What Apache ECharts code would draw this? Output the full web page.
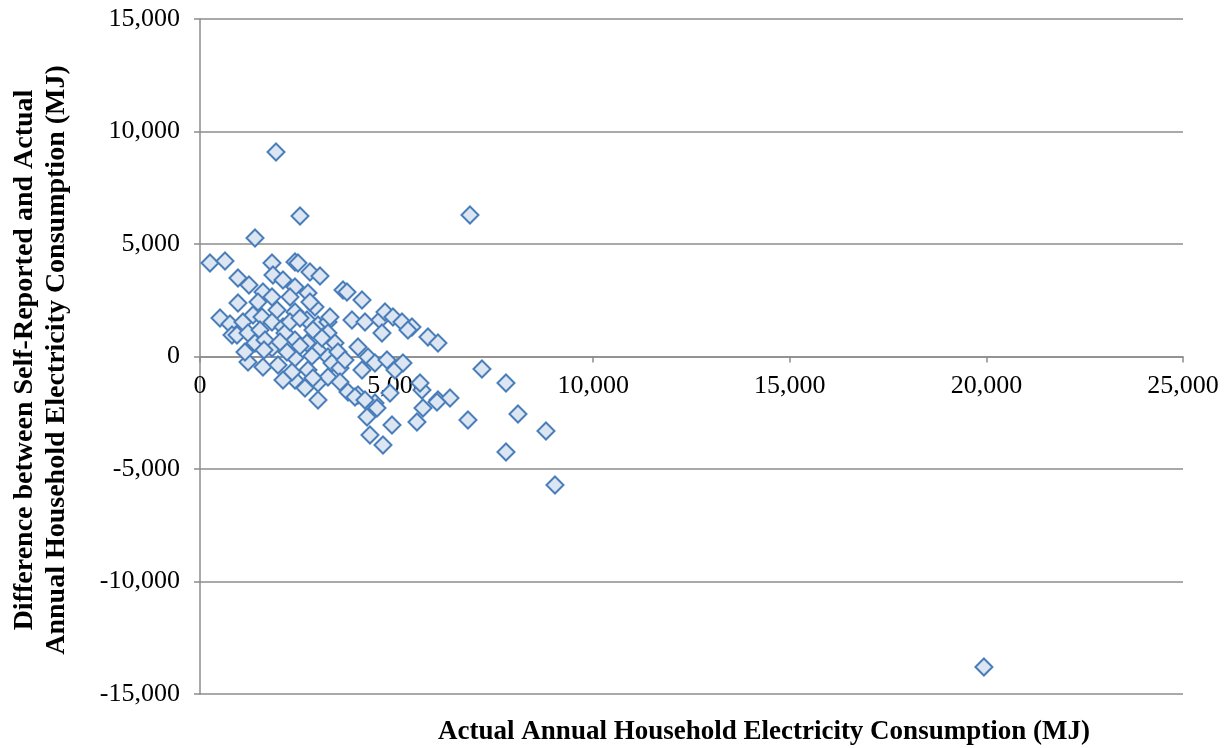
<!DOCTYPE html>
<html>
<head>
<meta charset="utf-8">
<script src="https://cdn.jsdelivr.net/npm/echarts@6/dist/echarts.min.js"></script>
<style>
html,body{margin:0;padding:0;background:#fff;}
#chart{width:1232px;height:748px;}
</style>
</head>
<body>
<div id="chart"></div>
<script>
// Actual annual household electricity consumption (MJ)
const actualMJ = [
  1933, 2543, 6866, 1399, 254, 636, 1831, 2416, 2492, 1856,
  2111, 2797, 3052, 966, 1246, 2416, 2746, 1602, 1831, 966,
  1475, 1958, 2416, 2924, 509, 763, 1093, 1348, 1577, 1831,
  2111, 2721, 3001, 3255, 3637, 3738, 4120, 3865, 4196, 4577,
  4705, 4908, 5137, 5391, 3306, 814, 941, 1221, 1526, 2162,
  2416, 2721, 3001, 3255, 1221, 1602, 1831, 1984, 2416, 2416,
  2746, 2670, 3001, 3001, 1399, 1144, 3255, 3255, 3433, 4018,
  4628, 5289, 5798, 6052, 4272, 4450, 4755, 4959, 5162, 4120,
  3357, 3560, 3764, 4018, 4450, 4832, 5645, 6052, 6358, 3942,
  4196, 4247, 4501, 4883, 4323, 4654, 5518, 5671, 6027, 6815,
  7171, 7782, 8087, 8799, 7782, 9028, 19937, 5595, 2212, 2543,
  2873, 3102, 1653, 2034, 2289, 2543, 2848, 3509, 2340, 2111,
  2873, 3560, 3687, 1628, 2797, 2289
];
// Difference between self-reported and actual consumption (MJ)
const differenceMJ = [
  9089, 6244, 6289, 5266, 4156, 4244, 4156, 4200, 4156, 3622,
  3400, 3755, 3578, 3489, 3178, 3089, 2822, 2866, 2644, 2378,
  2422, 2067, 1978, 2200, 1711, 1444, 1533, 1844, 1755, 1533,
  1311, 1622, 1400, 1533, 2955, 2866, 2511, 1622, 1533, 1622,
  1978, 1755, 1533, 1311, 1755, 955, 955, 1044, 1178, 1044,
  733, 600, 289, -22, -244, -467, 378, -378, -67, -1044,
  -600, -1400, -1178, -1933, 600, 200, -911, 1044, 600, 422,
  1044, 1178, 866, 600, -22, -289, -156, -600, -289, -600,
  -289, -511, -1578, -1711, -2067, -1622, -1489, -1933, -1844, -1800,
  -1933, -2689, -2289, -3044, -3489, -3933, -2911, -2289, -2022, -2822,
  -555, -1178, -2555, -3311, -4244, -5711, -13800, -1178, 200, 466,
  1178, 822, 733, 644, 1533, 1711, 22, 200, -689, -1044,
  -955, -1133, -156, 289, 2422, 2644
];
const xTicks = [0, 5000, 10000, 15000, 20000, 25000];
const yTicks = [-15000, -10000, -5000, 0, 5000, 10000, 15000];

const points = actualMJ.map((x, i) => [x, differenceMJ[i]]);
const fmt = v => v.toLocaleString('en-US');
const serif = '"Liberation Serif", "DejaVu Serif", serif';

const gridTop = 19, gridBottom = 54, H = 748;
const plotH = H - gridTop - gridBottom;

const chart = echarts.init(document.getElementById('chart'), null, {renderer: 'canvas'});
chart.setOption({
  animation: false,
  backgroundColor: '#ffffff',
  grid: {left: 200, right: 49, top: gridTop, bottom: gridBottom, containLabel: false},
  xAxis: {
    type: 'value',
    min: xTicks[0], max: xTicks[xTicks.length - 1], interval: 5000,
    position: 'bottom',
    offset: -plotH / 2,
    axisLine: {onZero: false, lineStyle: {color: '#8c8c8c', width: 1.5}},
    axisTick: {show: true, inside: false, length: 6, lineStyle: {color: '#8c8c8c', width: 1.5}},
    axisLabel: {color: '#000', fontFamily: serif, fontSize: 26, margin: 17, formatter: fmt},
    splitLine: {show: false}
  },
  yAxis: {
    type: 'value',
    min: yTicks[0], max: yTicks[yTicks.length - 1], interval: 5000,
    axisLine: {show: true, onZero: false, lineStyle: {color: '#8c8c8c', width: 1.5}},
    axisTick: {show: true, inside: false, length: 6, lineStyle: {color: '#8c8c8c', width: 1.5}},
    axisLabel: {color: '#000', fontFamily: serif, fontSize: 26, margin: 20, formatter: fmt},
    splitLine: {show: true, lineStyle: {color: '#8c8c8c', width: 1.5}}
  },
  graphic: [
    {
      type: 'text', x: 764, y: 732,
      style: {
        text: 'Actual Annual Household Electricity Consumption (MJ)',
        fill: '#000', font: 'bold 27px ' + serif,
        align: 'center', verticalAlign: 'middle'
      }
    },
    {
      type: 'text', x: 41, y: 360, rotation: Math.PI / 2,
      style: {
        text: 'Difference between Self-Reported and Actual\nAnnual Household Electricity Consumption (MJ)',
        fill: '#000', font: 'bold 28px ' + serif,
        align: 'center', verticalAlign: 'middle', lineHeight: 32
      }
    }
  ],
  series: [{
    type: 'scatter',
    data: points,
    symbol: 'diamond',
    symbolSize: 17,
    itemStyle: {color: '#dce6f2', borderColor: '#4a7ebb', borderWidth: 2, opacity: 1}
  }]
});
</script>
</body>
</html>
